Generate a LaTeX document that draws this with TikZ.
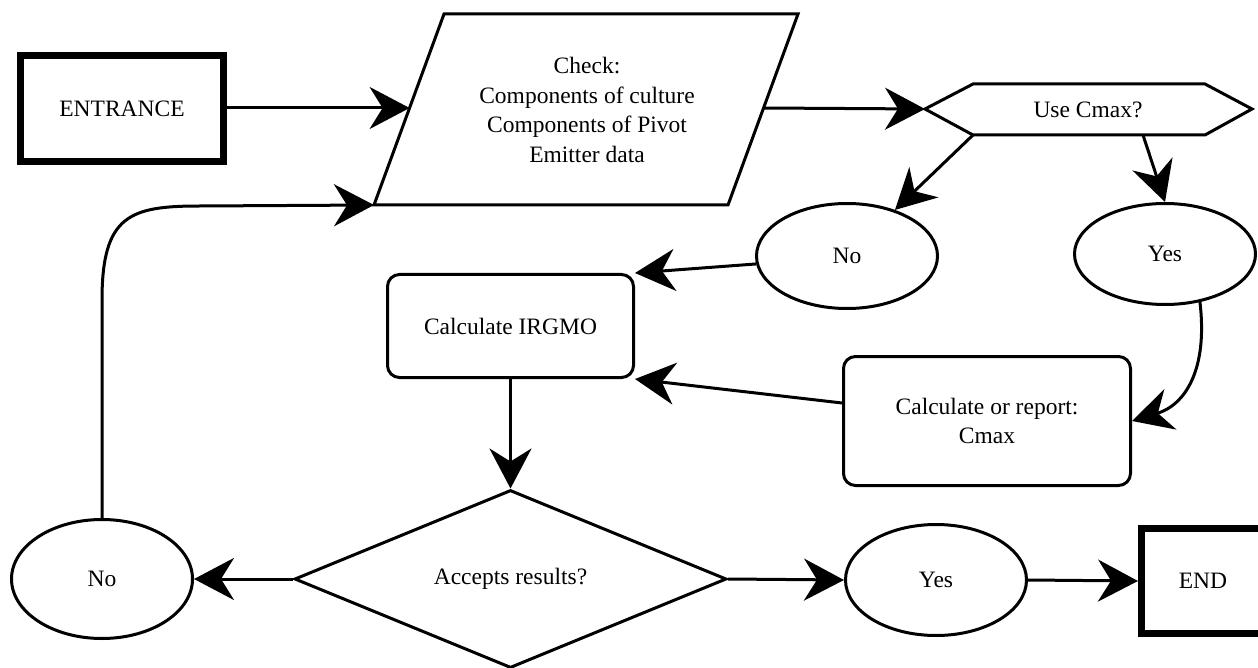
\documentclass[tikz,border=0pt]{standalone}
\usepackage{fontspec}
\setmainfont{Liberation Serif}
\usetikzlibrary{arrows.meta,shapes.geometric}
\begin{document}
\begin{tikzpicture}[x=1pt,y=1pt,
  txt/.style={font=\fontsize{23.5}{29.5}\selectfont, align=center, inner sep=0pt},
  termbox/.style={txt, draw, rectangle, line width=7pt},
  ell/.style={txt, draw, ellipse, line width=3pt},
  rbox/.style={txt, draw, rectangle, rounded corners=12pt, line width=3pt},
  shp/.style={line width=3pt, line join=miter},
  arr/.style={line width=3pt, -{Stealth[length=40pt,width=42pt,inset=13pt]}}
]
\useasboundingbox (0,0) rectangle (1258,-668);

% terminals
\node[termbox, minimum width=203pt, minimum height=106pt] (ent) at (122,-108.5) {ENTRANCE};
\node[termbox, minimum width=123pt, minimum height=105pt] (endn) at (1203,-581) {END};

% parallelogram (input)
\coordinate (ptl) at (444,-14);
\coordinate (ptr) at (798,-14);
\coordinate (pbr) at (728,-205);
\coordinate (pbl) at (374,-205);
\coordinate (pin) at (409.6,-108);
\coordinate (pout) at (763.6,-108);
\draw[shp] (ptl) -- (ptr) -- (pbr) -- (pbl) -- cycle;
\node[txt] (chk) at (587,-110) {Check:\\Components of culture\\Components of Pivot\\Emitter data};

% hexagon decision
\coordinate (hexw) at (925,-109);
\coordinate (hextl) at (973,-84);
\coordinate (hextr) at (1205,-84);
\coordinate (hexe) at (1252,-109);
\coordinate (hexbr) at (1205,-135);
\coordinate (hexbl) at (973,-135);
\coordinate (hexb) at (1143,-135);
\draw[shp] (hexw) -- (hextl) -- (hextr) -- (hexe) -- (hexbr) -- (hexbl) -- cycle;
\node[txt] (hex) at (1088,-110) {Use Cmax?};

% ellipses
\node[ell, minimum width=181pt, minimum height=105pt] (uno) at (847,-256) {No};
\node[ell, minimum width=181pt, minimum height=101pt] (uyes) at (1165,-254) {Yes};
\node[ell, minimum width=181pt, minimum height=119pt] (lno) at (102,-579) {No};
\node[ell, minimum width=181pt, minimum height=111pt] (lyes) at (936,-580) {Yes};

% process boxes
\node[rbox, minimum width=246pt, minimum height=103pt] (irg) at (510.5,-326) {Calculate IRGMO};
\node[rbox, minimum width=287pt, minimum height=129pt] (calc) at (987,-421) {Calculate or report:\\Cmax};

% diamond
\node[txt, draw, diamond, line width=3pt, minimum width=432pt, minimum height=178pt] (acc) at (510.5,-579) {Accepts results?};

% connectors
\draw[arr] (ent.east |- pin) -- (pin);
\draw[arr] (pout) -- (hexw);
\draw[arr] (hexbl) -- (uno);
\draw[arr] (hexb) -- (uyes.north);
\draw[arr] (uno.185) -- (irg.north east);
\draw[arr] ([yshift=18pt]calc.west) -- (irg.south east);
\draw[arr] (uyes.-54) .. controls (1208,-370) and (1185,-405) .. (calc.east);
\draw[arr] (irg.south) -- (acc.north);
\draw[arr] (acc.west) -- (lno.east);
\draw[arr] (acc.east) -- (lyes.west);
\draw[arr] (lyes.east) -- (endn.west);
\draw[arr] (lno.north) -- (102,-300) .. controls (102,-215) and (130,-206) .. (200,-206) -- (pbl);
\end{tikzpicture}
\end{document}
